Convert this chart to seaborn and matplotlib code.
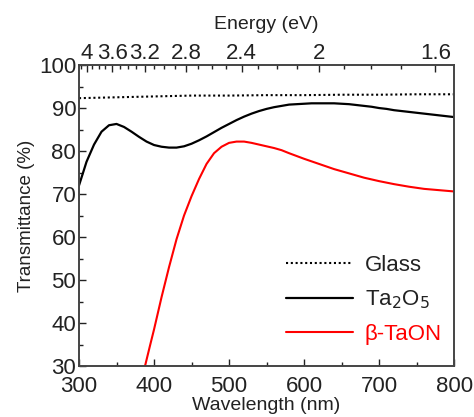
import numpy as np
import pandas as pd
import matplotlib
matplotlib.use("Agg")
import matplotlib.pyplot as plt
import seaborn as sns
from matplotlib.ticker import MultipleLocator, FixedLocator

# values
glass_wl = [300, 350, 400, 450, 500, 550, 600, 650, 700, 750, 800]
glass_t = [92.3, 92.5, 92.7, 92.9, 92.9, 93.0, 93.0, 93.1, 93.1, 93.2, 93.2]

ta2o5_wl = list(range(300, 801, 10))
ta2o5_t = [72.0, 77.5, 81.5, 84.5, 86.0, 86.3, 85.6, 84.5, 83.3, 82.2,
           81.4, 81.0, 80.8, 80.8, 81.1, 81.7, 82.5, 83.4, 84.4, 85.4,
           86.3, 87.2, 88.0, 88.7, 89.3, 89.8, 90.2, 90.5, 90.8, 90.9,
           91.0, 91.1, 91.1, 91.1, 91.1, 91.0, 90.9, 90.7, 90.5, 90.3,
           90.0, 89.8, 89.5, 89.3, 89.1, 88.9, 88.7, 88.5, 88.3, 88.1, 87.9]

taon_wl = [388, 395, 400, 410, 420, 430, 440, 450, 460, 470, 480, 490, 500,
           510, 520, 530, 540, 550, 560, 570, 580, 600, 620, 640, 660, 680,
           700, 720, 740, 760, 780, 800]
taon_t = [30.0, 35.0, 38.5, 46.0, 53.0, 59.5, 65.0, 69.5, 73.5, 77.0, 79.5,
          81.0, 81.9, 82.2, 82.2, 81.9, 81.5, 81.1, 80.7, 80.2, 79.5, 78.2,
          77.0, 75.8, 74.8, 73.8, 73.0, 72.3, 71.7, 71.2, 70.9, 70.6]

energy_major = [4, 3.6, 3.2, 2.8, 2.4, 2, 1.6]
energy_labels = ["4", "3.6", "3.2", "2.8", "2.4", "2", "1.6"]
energy_minor = [round(4.1 - 0.1 * i, 1) for i in range(26)]

sns.set_style("ticks")
plt.rcParams['font.family'] = ['Liberation Sans', 'DejaVu Sans']
text_col = "#222222"

fig = plt.figure(figsize=(4.74, 4.17), dpi=100)
ax = fig.add_axes([0.1667, 0.1223, 0.7913, 0.7217])

sns.lineplot(x=glass_wl, y=glass_t, ax=ax, color="black", lw=1.5,
             linestyle=(0, (1, 1.3)), label="Glass")
sns.lineplot(x=ta2o5_wl, y=ta2o5_t, ax=ax, color="black", lw=1.6,
             label="Ta$_2$O$_5$")
sns.lineplot(x=taon_wl, y=taon_t, ax=ax, color="#ff0000", lw=1.5,
             label="β-TaON")

ax.set_xlim(300, 800)
ax.set_ylim(30, 100)
ax.xaxis.set_major_locator(MultipleLocator(100))
ax.xaxis.set_minor_locator(MultipleLocator(50))
ax.yaxis.set_major_locator(MultipleLocator(10))
ax.yaxis.set_minor_locator(MultipleLocator(5))
ax.tick_params(which="both", direction="in", top=False, right=False,
               labelsize=16, colors=text_col, width=1.0)
ax.tick_params(which="major", length=5)
ax.tick_params(which="minor", length=3)
ax.tick_params(axis="y", pad=2)
ax.tick_params(axis="x", pad=7)
for s in ax.spines.values():
    s.set_linewidth(1.4)
    s.set_color("#444444")

ax.set_xlabel("Wavelength (nm)", fontsize=14, color=text_col, labelpad=0)
ax.set_ylabel("Transmittance (%)", fontsize=13.5, color=text_col, labelpad=3)


def to_ev(x):
    x = np.asarray(x, dtype=float)
    return 1240.0 / np.where(x == 0, 1e-9, x)


top = ax.secondary_xaxis("top", functions=(to_ev, to_ev))
top.xaxis.set_major_locator(FixedLocator(energy_major))
top.set_xticklabels(energy_labels)
top.xaxis.set_minor_locator(FixedLocator(energy_minor))
top.tick_params(which="both", direction="in", labelsize=16, colors=text_col,
                width=1.0, pad=1)
top.tick_params(which="major", length=5)
top.tick_params(which="minor", length=3)
top.spines["top"].set_visible(False)
top.set_xlabel("Energy (eV)", fontsize=14, color=text_col, labelpad=10)

leg = ax.legend(loc="lower right", frameon=False, fontsize=16,
                handlelength=3.0, handletextpad=0.55, labelspacing=0.58,
                borderpad=0, borderaxespad=0,
                bbox_to_anchor=(0.968, 0.07))
for txt, col in zip(leg.get_texts(), [text_col, text_col, "#ff0000"]):
    txt.set_color(col)

fig.savefig("out.png", dpi=100)
